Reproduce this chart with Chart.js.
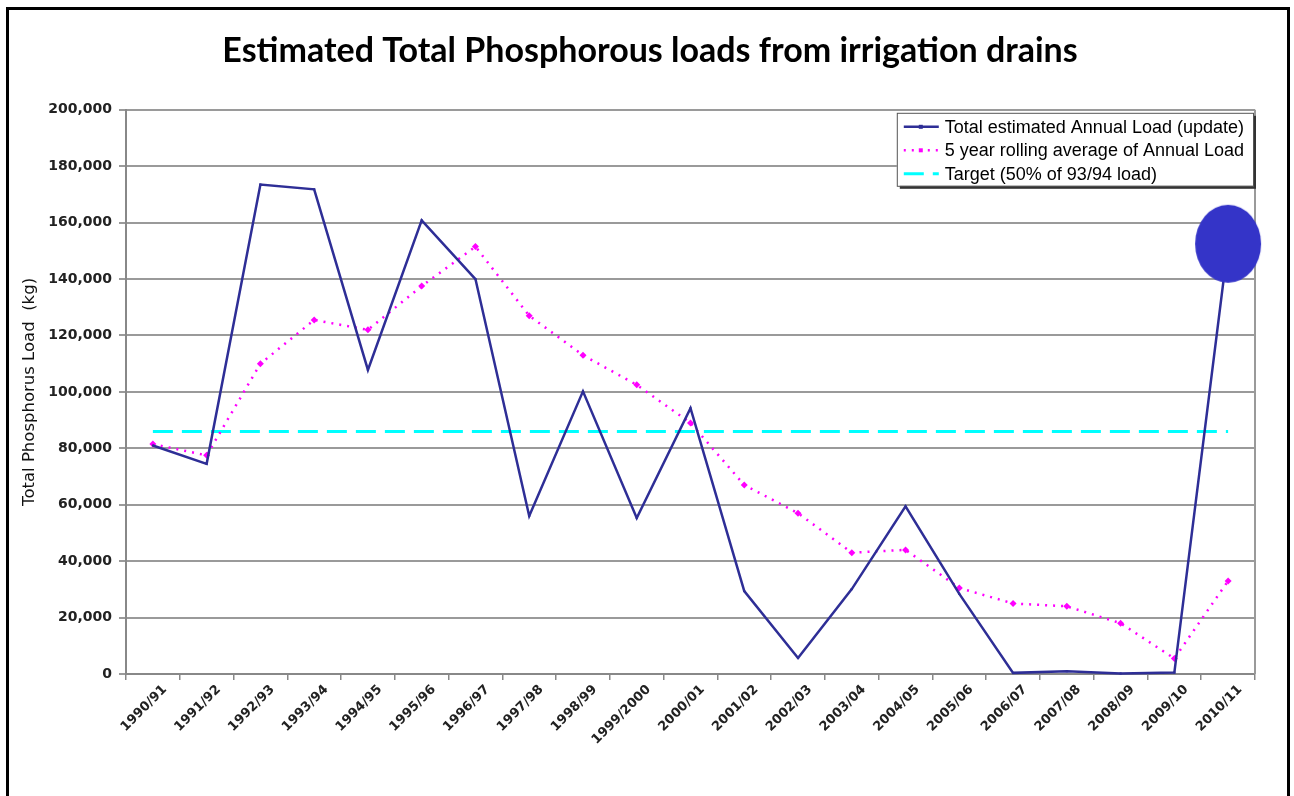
<!DOCTYPE html>
<html>
<head>
<meta charset="utf-8">
<script src="https://cdn.jsdelivr.net/npm/chart.js@4.4.0/dist/chart.umd.min.js"></script>
<style>
  html, body { margin: 0; padding: 0; background: #fff; }
  #wrap { position: relative; width: 1294px; height: 796px; overflow: hidden; }
  #frame { position: absolute; left: 6px; top: 7px; width: 1278px; height: 900px; border: 3px solid #000; }
  #chart { position: absolute; left: 0; top: 0; }
</style>
</head>
<body>
<div id="wrap">
  <div id="frame"></div>
  <canvas id="chart" width="1294" height="796"></canvas>
</div>
<script>
// Data
const seasons = ['1990/91', '1991/92', '1992/93', '1993/94', '1994/95', '1995/96', '1996/97',
                 '1997/98', '1998/99', '1999/2000', '2000/01', '2001/02', '2002/03', '2003/04',
                 '2004/05', '2005/06', '2006/07', '2007/08', '2008/09', '2009/10', '2010/11'];
const annualLoad = [81000, 74500, 173500, 171800, 107800, 160800, 140000,
                    56000, 100200, 55300, 94200, 29400, 5700, 30100,
                    59400, 28400, 400, 1000, 200, 500, 152500];
const rollingAvg = [81500, 77500, 110000, 125500, 122000, 137500, 151500,
                    127000, 113000, 102500, 89000, 67000, 57000, 43000,
                    44000, 30500, 25000, 24000, 18000, 5500, 33000];
const targetLoad = [86000, 86000, 86000, 86000, 86000, 86000, 86000,
                    86000, 86000, 86000, 86000, 86000, 86000, 86000,
                    86000, 86000, 86000, 86000, 86000, 86000, 86000];
const yMin = 0, yMax = 200000, yStep = 20000;

// Big blue ellipse marking the latest season
const blob = document.createElement('canvas');
blob.width = 70;
blob.height = 82;
const bctx = blob.getContext('2d');
bctx.fillStyle = '#3434c8';
bctx.beginPath();
bctx.ellipse(35, 41, 33, 39, 0, 0, Math.PI * 2);
bctx.fill();

const loadStyles = seasons.map((s, i) => i === seasons.length - 1 ? blob : 'rect');

// Right border of the plot area
const plotBorder = {
    id: 'plotBorder',
    beforeDatasetsDraw(chart) {
        const { ctx, chartArea } = chart;
        ctx.save();
        ctx.strokeStyle = '#9a9a9a';
        ctx.lineWidth = 2;
        ctx.beginPath();
        ctx.moveTo(chartArea.right, chartArea.top);
        ctx.lineTo(chartArea.right, chartArea.bottom);
        ctx.stroke();
        ctx.restore();
    }
};

// Boxed legend in the top right corner
const boxLegend = {
    id: 'boxLegend',
    afterDraw(chart) {
        const { ctx, chartArea } = chart;
        const items = chart.data.datasets;
        ctx.save();
        ctx.font = '18px "Liberation Sans", Arial, sans-serif';
        let textW = 0;
        items.forEach(d => { textW = Math.max(textW, ctx.measureText(d.label).width); });
        const w = 48 + textW + 9;
        const h = 73;
        const right = chartArea.right - 2;
        const left = right - w;
        const top = chartArea.top + 3;

        // shadow
        ctx.fillStyle = '#333';
        ctx.fillRect(left + 3, top + 3, w, h);
        ctx.fillStyle = '#fff';
        ctx.fillRect(left, top, w, h);
        ctx.strokeStyle = '#555';
        ctx.lineWidth = 1;
        ctx.strokeRect(left + 0.5, top + 0.5, w, h);

        items.forEach((d, i) => {
            const y = top + 14 + i * 23.5;
            ctx.strokeStyle = d.borderColor;
            ctx.lineWidth = d.borderWidth;
            ctx.setLineDash(d.borderDash || []);
            ctx.beginPath();
            ctx.moveTo(left + 7, y);
            ctx.lineTo(left + 42, y);
            ctx.stroke();
            ctx.setLineDash([]);
            if (d.pointRadius) {
                ctx.fillStyle = d.borderColor;
                ctx.fillRect(left + 24 - 2, y - 2, 4, 4);
            }
            ctx.fillStyle = '#000';
            ctx.textBaseline = 'middle';
            ctx.fillText(d.label, left + 48, y + 1);
        });
        ctx.restore();
    }
};

const ctx = document.getElementById('chart').getContext('2d');
const chart = new Chart(ctx, {
    type: 'line',
    data: {
        labels: seasons,
        datasets: [
            {
                label: 'Total estimated Annual Load (update)',
                data: annualLoad,
                borderColor: '#2e2e96',
                backgroundColor: '#2e2e96',
                borderWidth: 2.5,
                pointStyle: loadStyles,
                pointRadius: 1.5,
                pointBorderWidth: 0,
                clip: false,
                tension: 0
            },
            {
                label: '5 year rolling average of Annual Load',
                data: rollingAvg,
                borderColor: '#ff00ff',
                backgroundColor: '#ff00ff',
                borderWidth: 2.5,
                borderDash: [2, 6],
                pointStyle: 'rectRot',
                pointRadius: 3.5,
                pointBorderWidth: 0,
                tension: 0
            },
            {
                label: 'Target (50% of 93/94 load)',
                data: targetLoad,
                borderColor: '#00ffff',
                backgroundColor: '#00ffff',
                borderWidth: 3,
                borderDash: [20, 9],
                pointRadius: 0,
                tension: 0
            }
        ]
    },
    options: {
        responsive: false,
        animation: false,
        // left padding kept wide so the title sits centred on the page like the original
        layout: { padding: { left: 45, right: 39, top: 0, bottom: 12 } },
        plugins: {
            legend: { display: false },
            tooltip: { enabled: false },
            title: {
                display: true,
                text: 'Estimated Total Phosphorous loads from irrigation drains',
                color: '#000',
                font: { family: 'Lato, "Open Sans", sans-serif', size: 34, weight: 'bold' },
                padding: { top: 31, bottom: 38 }
            }
        },
        scales: {
            x: {
                type: 'category',
                offset: true,
                grid: { offset: true, drawOnChartArea: false, drawTicks: true, tickLength: 6, color: '#888', lineWidth: 1.5 },
                border: { color: '#888', width: 2 },
                ticks: {
                    autoSkip: false,
                    maxRotation: 45,
                    minRotation: 45,
                    padding: 2,
                    labelOffset: 12,
                    color: '#222',
                    font: { family: '"DejaVu Sans", sans-serif', size: 13, weight: 'bold' }
                },
                afterFit(scale) { scale.height = 110; }
            },
            y: {
                min: yMin,
                max: yMax,
                ticks: {
                    stepSize: yStep,
                    padding: 7,
                    color: '#222',
                    font: { family: '"DejaVu Sans", sans-serif', size: 14, weight: 'bold' },
                    callback: v => v.toLocaleString('en-US')
                },
                grid: { color: '#9a9a9a', lineWidth: 2, tickLength: 7, drawTicks: true },
                border: { color: '#888', width: 2 },
                title: {
                    display: true,
                    text: 'Total Phosphorus Load  (kg)',
                    color: '#111',
                    font: { family: '"DejaVu Sans", sans-serif', size: 16.5 },
                    padding: { top: -25, bottom: 0 }
                },
                afterFit(scale) { scale.width = 81; }
            }
        }
    },
    plugins: [plotBorder, boxLegend]
});
</script>
</body>
</html>
